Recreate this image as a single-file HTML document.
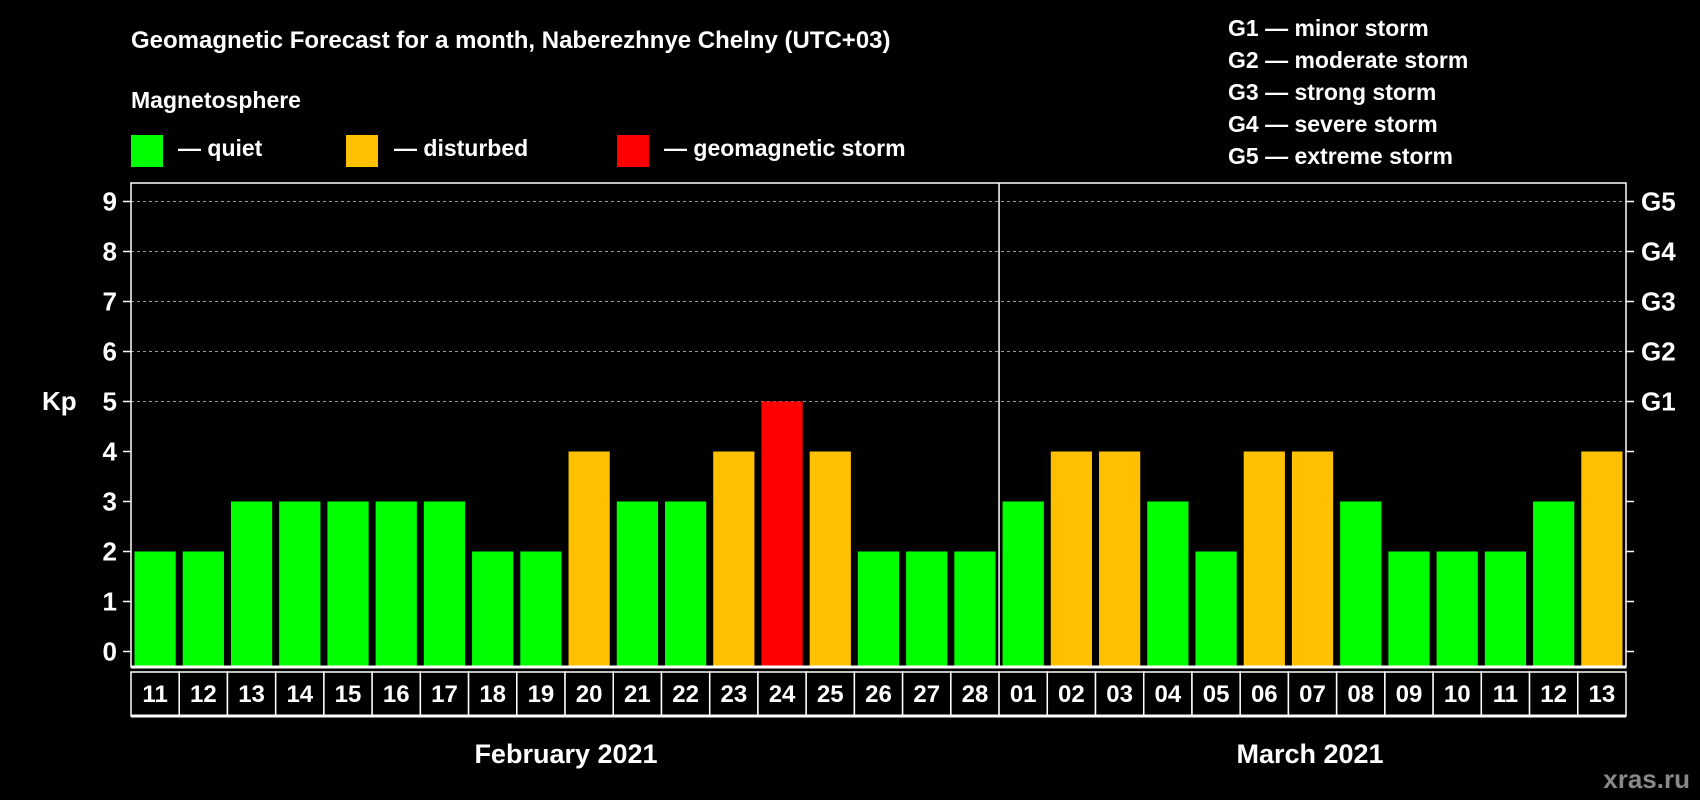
<!DOCTYPE html>
<html><head><meta charset="utf-8"><style>
html,body{margin:0;padding:0;background:#000;}
svg{display:block;font-family:"Liberation Sans",Arial,sans-serif;font-weight:bold;}
</style></head><body>
<svg id="chart" width="1700" height="800" viewBox="0 0 1700 800">
<rect x="0" y="0" width="1700" height="800" fill="#000"/>
<text x="131" y="48" fill="#fff" font-size="24">Geomagnetic Forecast for a month, Naberezhnye Chelny (UTC+03)</text>
<text x="131" y="108" fill="#fff" font-size="23">Magnetosphere</text>
<g><rect x="131" y="135" width="32" height="32" fill="#00ff00"/><text x="178" y="156" fill="#fff" font-size="23">— quiet</text></g>
<g><rect x="346" y="135" width="32" height="32" fill="#ffc000"/><text x="394" y="156" fill="#fff" font-size="23">— disturbed</text></g>
<g><rect x="617" y="135" width="32" height="32" fill="#ff0000"/><text x="664" y="156" fill="#fff" font-size="23">— geomagnetic storm</text></g>
<g fill="#fff" font-size="23">
<text x="1228" y="36">G1 — minor storm</text>
<text x="1228" y="68">G2 — moderate storm</text>
<text x="1228" y="100">G3 — strong storm</text>
<text x="1228" y="132">G4 — severe storm</text>
<text x="1228" y="164">G5 — extreme storm</text>
</g>
<text x="42" y="410" fill="#fff" font-size="26">Kp</text>
<text x="566" y="763" fill="#fff" font-size="27" text-anchor="middle">February 2021</text>
<text x="1310" y="763" fill="#fff" font-size="27" text-anchor="middle">March 2021</text>
<text x="1690" y="788" fill="#888" font-size="26" text-anchor="end">xras.ru</text>
<g id="plot"></g>
</svg>
<script>
const days = ["11","12","13","14","15","16","17","18","19","20","21","22","23","24","25","26","27","28","01","02","03","04","05","06","07","08","09","10","11","12","13"];
const kpValues = [2,2,3,3,3,3,3,2,2,4,3,3,4,5,4,2,2,2,3,4,4,3,2,4,4,3,2,2,2,3,4];
const yTicks = [0,1,2,3,4,5,6,7,8,9];
const gLabels = ["G1","G2","G3","G4","G5"];
const gLevels = [5,6,7,8,9];

const NS = "http://www.w3.org/2000/svg";
const plot = document.getElementById("plot");
const L = 131, R = 1626, T = 183, B = 667;
const slot = (R - L) / days.length;
function xPos(i){ return L + i * slot; }
function yPos(v){ return 651.5 - v * 50; }
function mk(tag, attrs, parent){ const e = document.createElementNS(NS, tag); for (const k in attrs) e.setAttribute(k, attrs[k]); (parent||plot).appendChild(e); return e; }
function color(v){ return v >= 5 ? "#ff0000" : (v >= 4 ? "#ffc000" : "#00ff00"); }

// gridlines for G levels
gLevels.forEach((lv, i) => {
  const g = mk("line", {x1:L, x2:R, y1:yPos(lv), y2:yPos(lv), stroke:"#999", "stroke-width":1, "stroke-dasharray":"3,3"});
  
  
  const t = mk("text", {x:1641, y:yPos(lv)+9, fill:"#fff", "font-size":26});
  t.textContent = gLabels[i];
  
  
});

// y ticks
yTicks.forEach(v => {
  const t = mk("text", {x:117, y:yPos(v)+9, fill:"#fff", "font-size":26, "text-anchor":"end"});
  t.textContent = v;
  
  
  mk("line", {x1:L-8, x2:L, y1:yPos(v), y2:yPos(v), stroke:"#fff", "stroke-width":1.5});
  mk("line", {x1:R, x2:R+8, y1:yPos(v), y2:yPos(v), stroke:"#fff", "stroke-width":1.5});
});

// bars
kpValues.forEach((v, i) => {
  const b = mk("rect", {x:xPos(i)+3.5, y:yPos(v), width:slot-7, height:B - yPos(v), fill:color(v)});
  
  
});

// frame
mk("rect", {x:L, y:T, width:R-L, height:B-T, fill:"none", stroke:"#fff", "stroke-width":1.5});
const sep = mk("line", {x1:xPos(18), x2:xPos(18), y1:T, y2:B, stroke:"#fff", "stroke-width":1.5});


mk("line", {x1:L, x2:R, y1:B, y2:B, stroke:"#fff", "stroke-width":3});

// date boxes
days.forEach((d, i) => {
  const r = mk("rect", {x:xPos(i), y:672, width:slot, height:44, fill:"#000", stroke:"#fff", "stroke-width":1.5});
  
  
  const t = mk("text", {x:xPos(i)+slot/2, y:702, fill:"#fff", "font-size":24, "text-anchor":"middle"});
  t.textContent = d;
  
  
});
mk("line", {x1:L, x2:R, y1:716, y2:716, stroke:"#fff", "stroke-width":3});
</script>
</body></html>
